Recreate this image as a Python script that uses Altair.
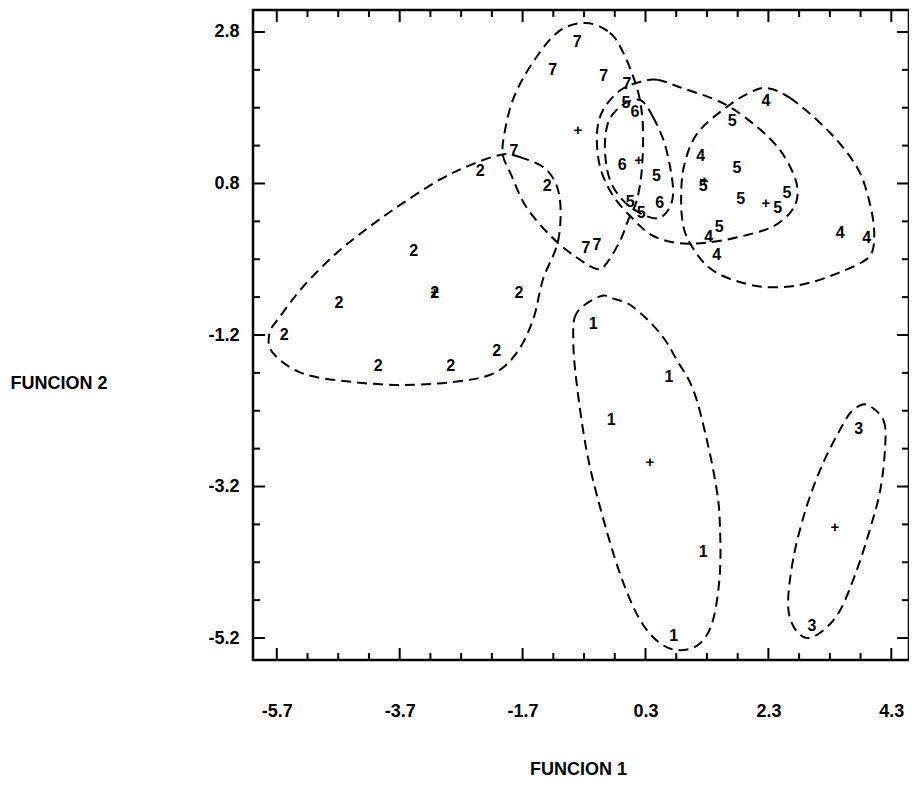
import altair as alt
import pandas as pd

# ---------------- data ----------------
# individual cases: group label, FUNCION 1, FUNCION 2
PT_GRP = (["1"] * 5 + ["2"] * 10 + ["3"] * 2 + ["4"] * 6 + ["5"] * 11 + ["6"] * 3 + ["7"] * 7)
PT_X = [-0.55, 0.68, -0.26, 1.24, 0.76,
        -2.39, -1.30, -3.47, -3.13, -1.76, -4.69, -5.58, -4.05, -2.87, -2.12,
        3.77, 3.01,
        2.26, 1.20, 1.33, 1.46, 3.47, 3.90,
        -0.02, 0.48, 0.05, 0.23, 1.71, 1.79, 1.85, 2.45, 2.60, 1.50, 1.24,
        0.13, -0.08, 0.53,
        -0.81, -1.21, -0.38, 0.00, -1.84, -0.67, -0.49]
PT_Y = [-1.05, -1.75, -2.32, -4.06, -5.17,
        0.97, 0.77, -0.09, -0.65, -0.65, -0.78, -1.20, -1.61, -1.61, -1.41,
        -2.44, -5.04,
        1.89, 1.16, 0.09, -0.14, 0.15, 0.08,
        1.86, 0.90, 0.56, 0.41, 1.62, 1.00, 0.60, 0.47, 0.68, 0.22, 0.77,
        1.74, 1.04, 0.54,
        2.67, 2.30, 2.22, 2.11, 1.23, -0.05, -0.01]

# group centroids (+)
CEN_GRP = ["1", "2", "3", "4", "5", "6", "7"]
CEN_X = [0.37, -3.13, 3.38, 2.26, 1.26, 0.19, -0.80]
CEN_Y = [-2.88, -0.63, -3.73, 0.54, 0.83, 1.11, 1.51]

# dashed group contours
OUT1_X = [-0.44, -0.82, -0.875, -0.82, -0.66, -0.44, -0.115, 0.21, 0.54, 0.865, 1.19, 1.40, 1.51, 1.51, 1.46, 1.30, 1.08, 0.81, 0.54, 0.10, -0.22]
OUT1_Y = [-0.69, -0.91, -1.27, -1.84, -2.72, -3.47, -4.35, -4.96, -5.27, -5.36, -5.27, -4.96, -4.35, -3.69, -3.25, -2.59, -1.93, -1.53, -1.18, -0.83, -0.72]
OUT2_X = [-2.05, -1.75, -1.31, -1.10, -1.12, -1.37, -1.53, -1.80, -2.18, -2.83, -3.65, -4.46, -5.27, -5.76, -5.82, -5.65, -5.27, -4.73, -4.19, -3.65, -3.05, -2.56]
OUT2_Y = [1.18, 1.15, 0.98, 0.63, 0.05, -0.47, -1.00, -1.44, -1.71, -1.82, -1.86, -1.82, -1.71, -1.44, -1.18, -0.96, -0.56, -0.12, 0.23, 0.54, 0.85, 1.04]
OUT3_X = [3.90, 4.17, 4.20, 4.12, 3.95, 3.74, 3.47, 3.19, 2.92, 2.71, 2.62, 2.71, 2.92, 3.19, 3.52, 3.68]
OUT3_Y = [-2.12, -2.32, -2.67, -3.25, -3.77, -4.30, -4.83, -5.10, -5.20, -5.05, -4.74, -4.13, -3.47, -2.89, -2.37, -2.19]
OUT4_X = [2.28, 2.65, 3.14, 3.51, 3.79, 3.95, 4.02, 3.99, 3.82, 3.47, 3.06, 2.65, 2.16, 1.68, 1.35, 1.11, 0.93, 0.88, 0.93, 1.15, 1.64, 2.00]
OUT4_Y = [2.06, 1.93, 1.60, 1.28, 0.94, 0.54, 0.19, -0.10, -0.24, -0.37, -0.49, -0.56, -0.56, -0.46, -0.32, -0.10, 0.19, 0.58, 1.04, 1.47, 1.82, 2.00]
OUT5_X = [0.21, 0.49, 0.86, 1.56, 2.11, 2.49, 2.73, 2.77, 2.65, 2.37, 1.95, 1.40, 0.86, 0.42, 0.10, -0.23, -0.44, -0.49, -0.39, -0.11]
OUT5_Y = [2.14, 2.17, 2.07, 1.86, 1.55, 1.24, 0.88, 0.62, 0.41, 0.23, 0.12, 0.03, 0.01, 0.11, 0.33, 0.64, 1.02, 1.46, 1.77, 2.03]
OUT6_X = [0.26, 0.42, 0.59, 0.70, 0.75, 0.67, 0.49, 0.21, -0.07, -0.28, -0.36, -0.31, -0.12, 0.10]
OUT6_Y = [1.88, 1.68, 1.38, 1.02, 0.67, 0.45, 0.34, 0.41, 0.58, 0.85, 1.24, 1.60, 1.81, 1.90]
OUT7_X = [-0.68, -0.28, -0.07, 0.10, 0.21, 0.26, 0.24, 0.16, 0.02, -0.11, -0.33, -0.49, -0.83, -1.21, -1.64, -1.90, -2.02, -2.00, -1.86, -1.58, -1.14]
OUT7_Y = [2.92, 2.79, 2.54, 2.21, 1.90, 1.50, 0.98, 0.58, 0.32, 0.05, -0.25, -0.33, -0.17, 0.08, 0.49, 0.94, 1.17, 1.44, 1.90, 2.34, 2.79]

# axis ticks
X_MAJOR = [-5.7, -3.7, -1.7, 0.3, 2.3, 4.3]
X_MINOR = [-5.2, -4.7, -4.2, -3.2, -2.7, -2.2, -1.2, -0.7, -0.2, 0.8, 1.3, 1.8, 2.8, 3.3, 3.8]
Y_MAJOR = [2.8, 0.8, -1.2, -3.2, -5.2]
Y_MINOR = [2.3, 1.8, 1.3, 0.3, -0.2, -0.7, -1.7, -2.2, -2.7, -3.7, -4.2, -4.7]
X_DOMAIN = [-6.087, 4.588]
Y_DOMAIN = [-5.49, 3.09]

# ---------------- chart ----------------
W, H = 656, 650
FONT = "Liberation Sans"

pts = pd.DataFrame({"grp": PT_GRP, "x": PT_X, "y": PT_Y})
cen = pd.DataFrame({"grp": CEN_GRP, "x": CEN_X, "y": CEN_Y, "s": ["+"] * len(CEN_GRP)})
rows = []
for g, (xs_, ys_) in enumerate([(OUT1_X, OUT1_Y), (OUT2_X, OUT2_Y), (OUT3_X, OUT3_Y),
                                 (OUT4_X, OUT4_Y), (OUT5_X, OUT5_Y), (OUT6_X, OUT6_Y),
                                 (OUT7_X, OUT7_Y)], start=1):
    for i, (a, b) in enumerate(zip(xs_, ys_)):
        rows.append({"grp": str(g), "i": i, "x": a, "y": b})
outl = pd.DataFrame(rows)

xsc = alt.Scale(domain=X_DOMAIN, nice=False, zero=False)
ysc = alt.Scale(domain=Y_DOMAIN, nice=False, zero=False)

x_axis = alt.Axis(values=X_MAJOR, labelExpr="datum.value + ''", ticks=False, domain=False,
                  grid=False, labelPadding=42, labelFont=FONT, labelFontSize=18,
                  labelFontWeight="bold", labelColor="black", labelFlush=False,
                  labelOverlap=False, title="FUNCION 1", titleFont=FONT, titleFontSize=18,
                  titleFontWeight="bold", titleColor="black", titleX=325, titleY=109,
                  titleAlign="center", titleBaseline="middle")
y_axis = alt.Axis(values=Y_MAJOR, labelExpr="datum.value + ''", ticks=False, domain=False,
                  grid=False, labelPadding=14, labelFont=FONT, labelFontSize=18,
                  labelFontWeight="bold", labelColor="black", labelOverlap=False,
                  title="FUNCION 2", titleFont=FONT, titleFontSize=18,
                  titleFontWeight="bold", titleColor="black", titleAngle=0,
                  titleX=-243, titleY=373, titleAlign="left", titleBaseline="middle")

labels = alt.Chart(pts).mark_text(font=FONT, fontSize=16, fontWeight="bold",
                                   color="black", baseline="middle", align="center").encode(
    x=alt.X("x:Q", scale=xsc, axis=x_axis),
    y=alt.Y("y:Q", scale=ysc, axis=y_axis),
    text="grp:N",
)

cents = alt.Chart(cen).mark_text(font=FONT, fontSize=15, fontWeight="bold",
                                  color="black", baseline="middle", align="center").encode(
    x=alt.X("x:Q", scale=xsc),
    y=alt.Y("y:Q", scale=ysc),
    text="s:N",
)

contours = alt.Chart(outl).mark_line(interpolate="cardinal-closed", color="black",
                                      strokeWidth=2, strokeDash=[10, 6]).encode(
    x=alt.X("x:Q", scale=xsc),
    y=alt.Y("y:Q", scale=ysc),
    detail="grp:N",
    order="i:Q",
)

tick_layers = []
for vals, ln in [(X_MAJOR, 12), (X_MINOR, 7)]:
    d = pd.DataFrame({"v": vals})
    base = alt.Chart(d).mark_rule(color="black", strokeWidth=2)
    tick_layers.append(base.encode(x=alt.X("v:Q", scale=xsc),
                                   y=alt.value(H), y2=alt.value(H - ln)))
    tick_layers.append(base.encode(x=alt.X("v:Q", scale=xsc),
                                   y=alt.value(0), y2=alt.value(ln)))
for vals, ln in [(Y_MAJOR, 12), (Y_MINOR, 7)]:
    d = pd.DataFrame({"v": vals})
    base = alt.Chart(d).mark_rule(color="black", strokeWidth=2)
    tick_layers.append(base.encode(y=alt.Y("v:Q", scale=ysc),
                                   x=alt.value(0), x2=alt.value(ln)))
    tick_layers.append(base.encode(y=alt.Y("v:Q", scale=ysc),
                                   x=alt.value(W), x2=alt.value(W - ln)))

chart = alt.layer(labels, contours, cents, *tick_layers).properties(
    width=W, height=H,
    autosize=alt.AutoSizeParams(type="none"),
    padding={"left": 245, "top": 2, "right": 0, "bottom": 120},
    background="white",
).configure_view(stroke="black", strokeWidth=2.5)

chart.save("out.html", embed_options={"renderer": "svg", "actions": False})
